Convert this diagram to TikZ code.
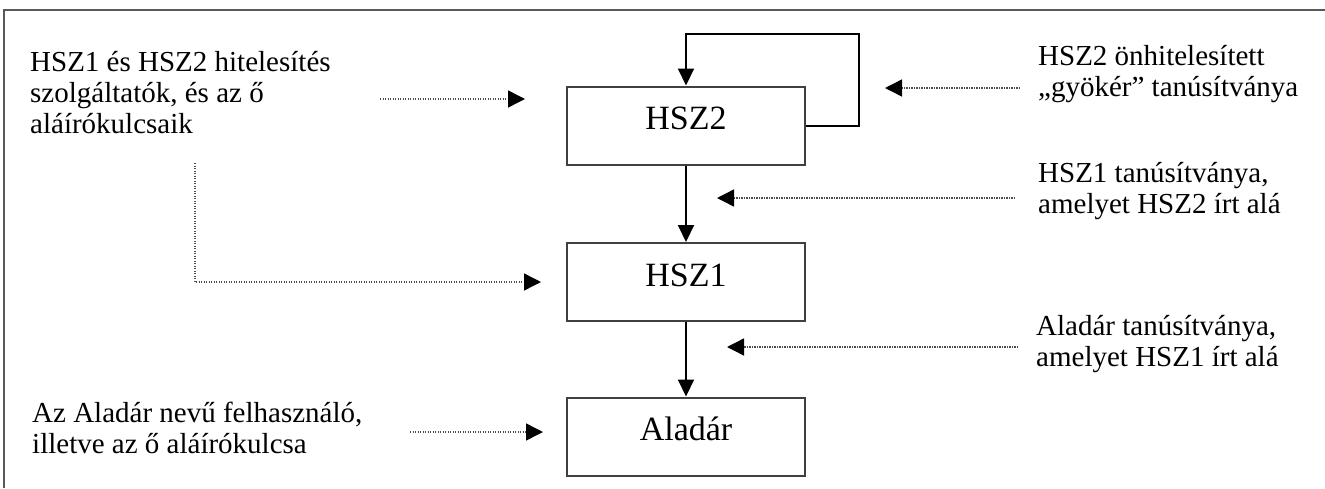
\documentclass[tikz,border=0pt]{standalone}
\usepackage{fontspec}
\setmainfont{Liberation Serif}
\usetikzlibrary{arrows.meta}
\begin{document}
\begin{tikzpicture}[x=1pt,y=-1pt,
  frame/.style={draw=black!65, line width=1.5pt},
  box/.style={draw=black!75, line width=2pt, minimum width=238pt, minimum height=78pt,
    inner sep=0pt, font=\fontsize{34}{36}\selectfont, text height=22pt, text depth=14pt},
  lbl/.style={align=left, inner sep=0pt, anchor=base west, font=\fontsize{29}{31}\selectfont},
  link/.style={draw=black, line width=2pt, -{Triangle[length=17pt,width=16pt,black]}},
  hint/.style={draw=black!70, line width=1.4pt, dash pattern=on 1.2pt off 1.3pt,
    -{Triangle[length=17pt,width=17pt,black]}}
]
\useasboundingbox (0,0) rectangle (1325,488);
\draw[frame] (4,488) -- (4,10) -- (1325,10);

% boxes
\node[box] (hsz2) at (686,125.5) {HSZ2};
\node[box] (hsz1) at (686,282) {HSZ1};
\node[box] (aladar) at (686,436.5) {Aladár};

% solid connectors
\draw[link] (hsz2.east) -- ++(53,0) -- ++(0,-92) -| (hsz2.north);
\draw[link] (hsz2) -- (hsz1);
\draw[link] (hsz1) -- (aladar);

% labels (anchored at the baseline of their last line)
\node[lbl] (l1) at (30,133) {HSZ1 és HSZ2 hitelesítés\\szolgáltatók, és az ő\\aláírókulcsaik};
\node[lbl] (l2) at (32,453) {Az Aladár nevű felhasználó,\\illetve az ő aláírókulcsa};
\node[lbl] (r1) at (1038,96) {HSZ2 önhitelesített\\„gyökér” tanúsítványa};
\node[lbl] (r2) at (1038,213) {HSZ1 tanúsítványa,\\amelyet HSZ2 írt alá};
\node[lbl] (r3) at (1036,366) {Aladár tanúsítványa,\\amelyet HSZ1 írt alá};

% dotted pointers
\coordinate (p1s) at (380,99);   \coordinate (p1e) at (525,99);
\coordinate (p2s) at (195,163);
\coordinate (p3s) at (410,432);  \coordinate (p3e) at (543,432);
\coordinate (q1s) at (1020,88);  \coordinate (q1e) at (885,88);
\coordinate (q2s) at (1015,198); \coordinate (q2e) at (717,198);
\coordinate (q3s) at (1018,347); \coordinate (q3e) at (727,347);

\draw[hint] (p1s) -- (p1e);
\draw[hint] (p2s) |- ([xshift=-25pt]hsz1.west);
\draw[hint] (p3s) -- (p3e);
\draw[hint] (q1s) -- (q1e);
\draw[hint] (q2s) -- (q2e);
\draw[hint] (q3s) -- (q3e);
\end{tikzpicture}
\end{document}
